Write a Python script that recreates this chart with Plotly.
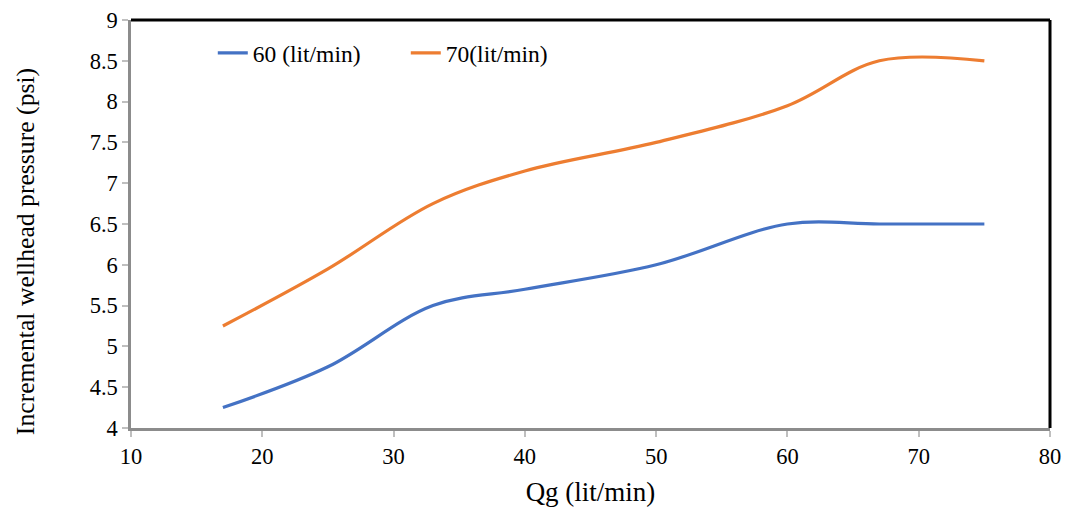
import plotly.graph_objects as go

# Gas injection rate (lit/min)
qg = [17, 25, 33, 40, 50, 60, 67, 75]
# Incremental wellhead pressure (psi) for each liquid rate
p_60 = [4.25, 4.75, 5.5, 5.7, 6.0, 6.5, 6.5, 6.5]
p_70 = [5.25, 5.95, 6.75, 7.15, 7.5, 7.95, 8.5, 8.5]

series_names = ["60 (lit/min)", "70(lit/min)"]
series_colors = ["#4472C4", "#ED7D31"]

x_ticks = [10, 20, 30, 40, 50, 60, 70, 80]
y_ticks = [4, 4.5, 5, 5.5, 6, 6.5, 7, 7.5, 8, 8.5, 9]

FONT = "Liberation Serif, Times New Roman, serif"
AXIS_GREY = "#8c8c8c"

fig = go.Figure()
for name, vals, col in zip(series_names, [p_60, p_70], series_colors):
    fig.add_trace(go.Scatter(
        x=qg, y=vals, name=name, mode="lines",
        line=dict(color=col, width=3.2, shape="spline", smoothing=1.0),
    ))

fig.update_layout(
    width=1065, height=508,
    margin=dict(l=131, r=15, t=20, b=80, autoexpand=False),
    paper_bgcolor="white", plot_bgcolor="white",
    font=dict(family=FONT, size=22, color="black"),
    showlegend=True,
    legend=dict(
        orientation="h", x=0.089, y=0.919, xanchor="left", yanchor="middle",
        font=dict(size=23.5), bgcolor="rgba(0,0,0,0)",
        entrywidth=148, tracegroupgap=0,
    ),
    xaxis=dict(
        range=[10, 80], tickvals=x_ticks, showgrid=False, zeroline=False,
        showline=True, linecolor=AXIS_GREY, linewidth=2.5, automargin=False,
        ticks="outside", ticklen=6, tickwidth=1.5, tickcolor="#bfbfbf",
        tickfont=dict(size=22.5),
        title=dict(text="Qg (lit/min)", font=dict(size=27), standoff=15),
    ),
    yaxis=dict(
        range=[4, 9], tickvals=y_ticks, showgrid=False, zeroline=False,
        showline=True, linecolor=AXIS_GREY, linewidth=2.5, automargin=False,
        ticks="outside", ticklen=6, tickwidth=1.5, tickcolor="#bfbfbf",
        tickfont=dict(size=22.5),
    ),
    annotations=[dict(
        text="Incremental wellhead pressure (psi)", textangle=-90,
        xref="paper", yref="paper", x=0, y=0.431, xshift=-106,
        xanchor="center", yanchor="middle", showarrow=False,
        font=dict(size=25.7),
    )],
    shapes=[
        dict(type="line", xref="paper", yref="paper", x0=0, x1=1, y0=1, y1=1,
             line=dict(color="black", width=3)),
        dict(type="line", xref="paper", yref="paper", x0=1, x1=1, y0=0, y1=1,
             line=dict(color="black", width=3)),
    ],
)

fig.write_html("out.html")
